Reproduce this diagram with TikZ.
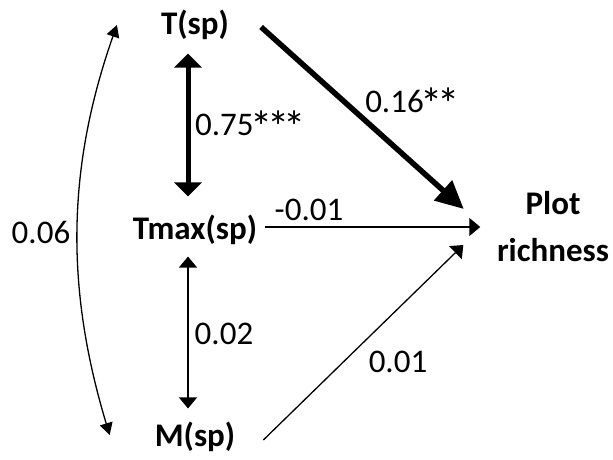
\documentclass[tikz,border=0pt]{standalone}
\usepackage{fontspec}
\usepackage{graphicx}
\setmainfont{Carlito}
\usetikzlibrary{arrows.meta}
\newcommand{\sigstar}{\makebox[0.5em]{\raisebox{-0.2em}{\scalebox{1.35}{*}}}}

\begin{document}
\begin{tikzpicture}[x=1pt, y=1pt,
    var/.style={font=\bfseries\fontsize{33}{47}\selectfont, inner sep=0pt, align=center},
    coef/.style={font=\fontsize{33}{40}\selectfont, inner sep=0pt},
    strong/.style={line width=5.5pt, -{Triangle[length=28pt, width=26pt]}},
    weak/.style={line width=1.3pt, -{Triangle[length=11pt, width=18pt]}},
    strongboth/.style={line width=5pt, {Triangle[length=14pt, width=27pt]}-{Triangle[length=14pt, width=27pt]}},
    weakboth/.style={line width=1.3pt, {Triangle[length=11pt, width=18pt]}-{Triangle[length=11pt, width=18pt]}}]
    \useasboundingbox (0,0) rectangle (613,459);
    % variables
    \node[var] (t) at (195,434) {T(sp)};
    \node[var] (tmax) at (195,229) {Tmax(sp)};
    \node[var] (m) at (195,22) {M(sp)};
    \node[var] (plot) at (553,232) {Plot\\richness};
    % paths to plot richness
    \draw[strong] ([xshift=32pt, yshift=-2pt]t.east) -- ([xshift=-33pt, yshift=18pt]plot.west);
    \draw[weak] ([xshift=7.5pt, yshift=3pt]tmax.east) -- ([xshift=-16.5pt, yshift=0pt]plot.west);
    \draw[weak] ([xshift=28pt, yshift=-3pt]m.east) -- ([xshift=-33.5pt, yshift=-18pt]plot.west);
    % correlations
    \draw[strongboth] ([xshift=-7pt, yshift=-13.5pt]t.south) -- ([xshift=-7pt, yshift=18.5pt]tmax.north);
    \draw[weakboth] ([xshift=-7pt, yshift=-11.5pt]tmax.south) -- ([xshift=-7pt, yshift=13.5pt]m.north);
    \draw[line width=1.3pt, {Triangle[length=12pt, width=13pt]}-{Triangle[length=12pt, width=13pt]}]
        ([xshift=-44pt]t.west) .. controls (66,289) and (66,169) .. ([xshift=-45pt, yshift=2pt]m.west);
    % coefficients
    \node[coef, anchor=west] (c1) at (195,332.5) {0.75\sigstar\sigstar\sigstar};
    \node[coef] (c2) at (411,355.5) {0.16\sigstar\sigstar};
    \node[coef] (c3) at (309,249) {-0.01};
    \node[coef] (c4) at (224,125.5) {0.02};
    \node[coef] (c5) at (398,97.5) {0.01};
    \node[coef] (c6) at (41,226.5) {0.06};
\end{tikzpicture}
\end{document}
